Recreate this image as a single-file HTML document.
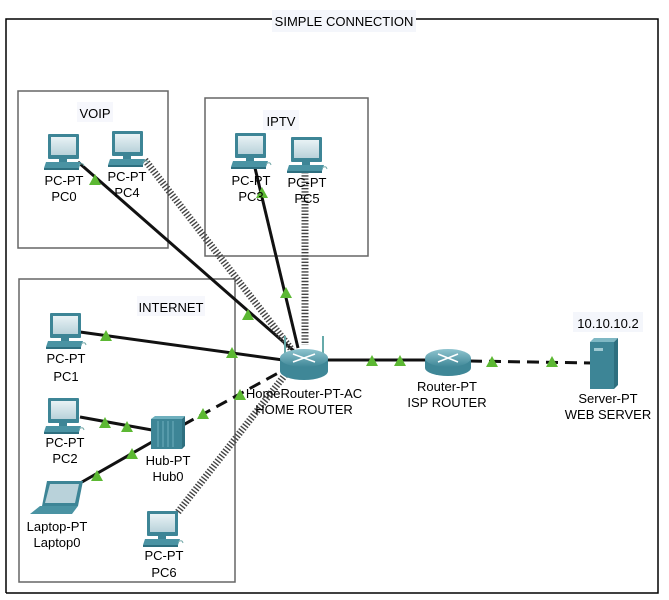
<!DOCTYPE html>
<html><head><meta charset="utf-8"><style>
body{margin:0;background:#fff;}
svg{display:block;font-family:"Liberation Sans",Arial,sans-serif;font-size:13px;}
</style></head><body>
<svg width="669" height="600" viewBox="0 0 669 600" xmlns="http://www.w3.org/2000/svg">
<defs>
<linearGradient id="scr" x1="0" y1="0" x2="0" y2="1"><stop offset="0" stop-color="#e8f2f5"/><stop offset="1" stop-color="#b9d2da"/></linearGradient>
<linearGradient id="rt" x1="0" y1="0" x2="0" y2="1"><stop offset="0" stop-color="#8fc4cf"/><stop offset="1" stop-color="#3f8797"/></linearGradient>
<g id="pc">
 <rect x="4" y="0" width="31" height="25" fill="#3d8596" rx="1"/>
 <rect x="7" y="3" width="25" height="18" fill="url(#scr)"/>
 <rect x="15" y="25" width="8" height="3" fill="#3d8596"/>
 <polygon points="2,28 37,28 35,34 0,34" fill="#4a93a3"/>
 <rect x="0" y="34" width="35" height="2" fill="#2e6f7f"/>
 <path d="M35 31 q4 -3 5 1" stroke="#7aa" fill="none"/>
</g>
<g id="tri"><polygon points="0,-6 6,5 -6,5" fill="#5cb833"/></g>
</defs>
<path d="M6 593 L6 19 L272 19 M416 19 L658 19 L658 593 L6 593" fill="none" stroke="#000" stroke-width="1.5"/>
<rect x="272" y="10" width="144" height="22" fill="#f4f6fb"/>
<text x="344" y="26" text-anchor="middle">SIMPLE CONNECTION</text>
<rect x="18" y="91" width="150" height="157" fill="none" stroke="#666" stroke-width="1.5"/>
<rect x="205" y="98" width="163" height="158" fill="none" stroke="#666" stroke-width="1.5"/>
<rect x="19" y="279" width="216" height="303" fill="none" stroke="#666" stroke-width="1.5"/>
<rect x="77" y="102" width="36" height="20" fill="#f6f7fc"/>
<text x="95" y="118" text-anchor="middle">VOIP</text>
<rect x="263" y="110" width="36" height="20" fill="#f6f7fc"/>
<text x="281" y="126" text-anchor="middle">IPTV</text>
<rect x="137" y="296" width="68" height="20" fill="#f6f7fc"/>
<text x="171" y="312" text-anchor="middle">INTERNET</text>
<g stroke="#111" stroke-width="3" fill="none">
 <line x1="78" y1="162" x2="295" y2="352"/>
 <line x1="255" y1="168" x2="298" y2="348"/>
 <line x1="80" y1="332" x2="283" y2="360"/>
 <line x1="80" y1="417" x2="152" y2="430"/>
 <line x1="82" y1="482" x2="152" y2="442"/>
 <line x1="328" y1="360" x2="425" y2="360"/>
 <line x1="183" y1="425" x2="280" y2="372" stroke-dasharray="12 7"/>
 <line x1="470" y1="361" x2="592" y2="363" stroke-dasharray="12 7"/>
</g>
<g stroke="#444" stroke-width="7" fill="none" stroke-dasharray="1.4 1.8">
 <line x1="145" y1="160" x2="292" y2="350"/>
 <line x1="305" y1="172" x2="305" y2="345"/>
 <line x1="178" y1="512" x2="285" y2="375"/>
</g>
<use href="#tri" x="95" y="180"/><use href="#tri" x="248" y="315"/>
<use href="#tri" x="262" y="193"/><use href="#tri" x="286" y="293"/>
<use href="#tri" x="106" y="336"/><use href="#tri" x="232" y="353"/>
<use href="#tri" x="105" y="423"/><use href="#tri" x="127" y="427"/>
<use href="#tri" x="97" y="476"/><use href="#tri" x="132" y="454"/>
<use href="#tri" x="203" y="414"/><use href="#tri" x="240" y="395"/>
<use href="#tri" x="372" y="361"/><use href="#tri" x="400" y="361"/>
<use href="#tri" x="492" y="362"/><use href="#tri" x="552" y="362"/>
<use href="#pc" x="44" y="134"/>
<use href="#pc" x="108" y="131"/>
<use href="#pc" x="231" y="133"/>
<use href="#pc" x="287" y="137"/>
<use href="#pc" x="46" y="313"/>
<use href="#pc" x="44" y="398"/>
<use href="#pc" x="143" y="511"/>
<polygon points="47,481 83,481 78,506 42,506" fill="#3d8596"/>
<polygon points="50,484 79,484 75,503 45,503" fill="#b9d2da"/>
<polygon points="40,506 78,506 72,514 30,514" fill="#4a93a3"/>
<rect x="151" y="419" width="31" height="30" fill="#3d8596"/>
<polygon points="151,419 155,416 185,416 182,419" fill="#6fb0be"/>
<polygon points="182,419 185,416 185,446 182,449" fill="#2e6f7f"/>
<g stroke="#6fb0be" stroke-width="1"><line x1="158" y1="421" x2="158" y2="447"/><line x1="163" y1="421" x2="163" y2="447"/><line x1="168" y1="421" x2="168" y2="447"/><line x1="173" y1="421" x2="173" y2="447"/></g>
<g stroke="#6aa" stroke-width="2"><line x1="285" y1="336" x2="285" y2="356"/><line x1="323" y1="336" x2="323" y2="356"/></g>
<path d="M280 358 L280 371 A24 9 0 0 0 328 371 L328 358 Z" fill="#3f8797"/>
<ellipse cx="304" cy="358" rx="24" ry="9" fill="url(#rt)"/>
<g stroke="#fff" stroke-width="1.5"><line x1="293" y1="354" x2="315" y2="362"/><line x1="293" y1="362" x2="315" y2="354"/></g>
<path d="M425 358 L425 368 A23 8 0 0 0 471 368 L471 358 Z" fill="#3f8797"/>
<ellipse cx="448" cy="358" rx="23" ry="9" fill="url(#rt)"/>
<g stroke="#fff" stroke-width="1.5"><line x1="438" y1="354" x2="458" y2="362"/><line x1="438" y1="362" x2="458" y2="354"/></g>
<rect x="590" y="342" width="24" height="47" fill="#3d8596"/>
<polygon points="590,342 594,338 618,338 614,342" fill="#7fb8c4"/>
<polygon points="614,342 618,338 618,385 614,389" fill="#2e6f7f"/>
<rect x="594" y="348" width="9" height="3" fill="#9fcad3"/>
<g text-anchor="middle">
<text x="64" y="185">PC-PT</text><text x="64" y="201">PC0</text>
<text x="127" y="181">PC-PT</text><text x="127" y="197">PC4</text>
<text x="251" y="185">PC-PT</text><text x="251" y="201">PC3</text>
<text x="307" y="187">PC-PT</text><text x="307" y="203">PC5</text>
<text x="66" y="363">PC-PT</text><text x="66" y="381">PC1</text>
<text x="65" y="447">PC-PT</text><text x="65" y="463">PC2</text>
<text x="57" y="531">Laptop-PT</text><text x="57" y="547">Laptop0</text>
<text x="168" y="465">Hub-PT</text><text x="168" y="481">Hub0</text>
<text x="164" y="560">PC-PT</text><text x="164" y="577">PC6</text>
<text x="304" y="398">HomeRouter-PT-AC</text><text x="304" y="414">HOME ROUTER</text>
<text x="447" y="391">Router-PT</text><text x="447" y="407">ISP ROUTER</text>
<text x="608" y="403">Server-PT</text><text x="608" y="419">WEB SERVER</text>
</g>
<rect x="573" y="312" width="70" height="20" fill="#f4f6fb"/>
<text x="608" y="328" text-anchor="middle">10.10.10.2</text>
</svg>
</body></html>
